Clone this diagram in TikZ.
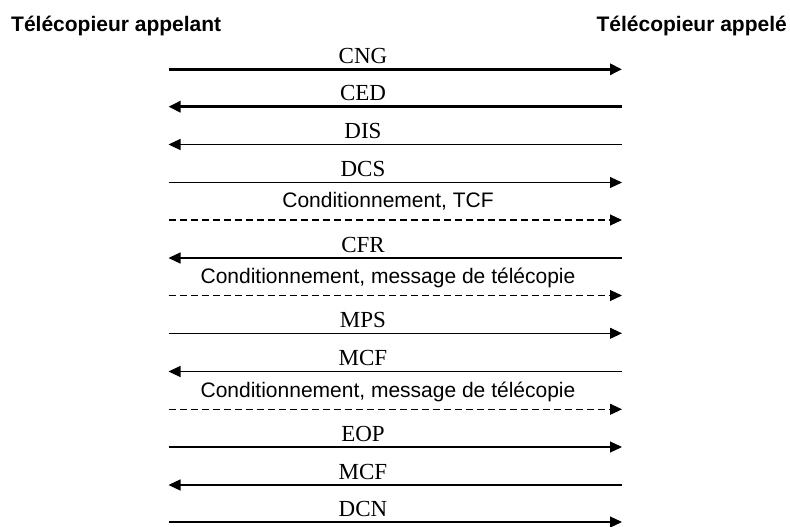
\documentclass[tikz,border=0pt]{standalone}
\usepackage{fontspec}
\setmainfont{Liberation Serif}
\newfontfamily\arialfont{Liberation Sans}
\usetikzlibrary{arrows.meta}
\begin{document}
\begin{tikzpicture}[x=1pt,y=-1pt,
  msg/.style={line width=1.1pt,-{Triangle[length=12pt,width=11pt]}},
  thickmsg/.style={line width=3pt,-{Triangle[length=12pt,width=11pt]}},
  dashmsg/.style={msg,dash pattern=on 7pt off 4pt},
  seriflbl/.style={inner sep=0pt,anchor=base,font=\fontsize{23}{27}\selectfont},
  sanslbl/.style={inner sep=0pt,anchor=base,font=\arialfont\fontsize{21}{25}\selectfont},
  header/.style={inner sep=0pt,font=\arialfont\bfseries\fontsize{21}{25}\selectfont}]
\useasboundingbox (0,0) rectangle (790,527);
% headers
\node[header,anchor=base west] (hl) at (11,31.5) {Télécopieur appelant};
\node[header,anchor=base east] (hr) at (787,31.5) {Télécopieur appelé};
% end points
\foreach \i/\y in {1/69.3,2/106.7,3/144.5,4/182.5,5/220,6/258,7/295.5,8/333.3,9/371.5,10/409.3,11/447,12/485,13/522}{
  \coordinate (a\i) at (168.5,\y);
  \coordinate (b\i) at (622,\y);
}
% arrows
\draw[thickmsg] (a1) -- (b1);
\draw[thickmsg] (b2) -- (a2);
\draw[msg] (b3) -- (a3);
\draw[msg] (a4) -- (b4);
\draw[dashmsg] (a5) -- (b5);
\draw[msg] (b6) -- (a6);
\draw[dashmsg] (a7) -- (b7);
\draw[msg] (a8) -- (b8);
\draw[msg] (b9) -- (a9);
\draw[dashmsg] (a10) -- (b10);
\draw[msg] (a11) -- (b11);
\draw[msg] (b12) -- (a12);
\draw[msg] (a13) -- (b13);
% labels
\node[seriflbl] (t1) at (363,63.3) {CNG};
\node[seriflbl] (t2) at (363,100.7) {CED};
\node[seriflbl] (t3) at (363,138.5) {DIS};
\node[seriflbl] (t4) at (363,176.5) {DCS};
\node[sanslbl] (t5) at (388,207) {Conditionnement, TCF};
\node[seriflbl] (t6) at (363,252) {CFR};
\node[sanslbl] (t7) at (388,283) {Conditionnement, message de télécopie};
\node[seriflbl] (t8) at (363,327.3) {MPS};
\node[seriflbl] (t9) at (363,365.5) {MCF};
\node[sanslbl] (t10) at (388,397) {Conditionnement, message de télécopie};
\node[seriflbl] (t11) at (363,441) {EOP};
\node[seriflbl] (t12) at (363,479) {MCF};
\node[seriflbl] (t13) at (363,516) {DCN};
\end{tikzpicture}
\end{document}
